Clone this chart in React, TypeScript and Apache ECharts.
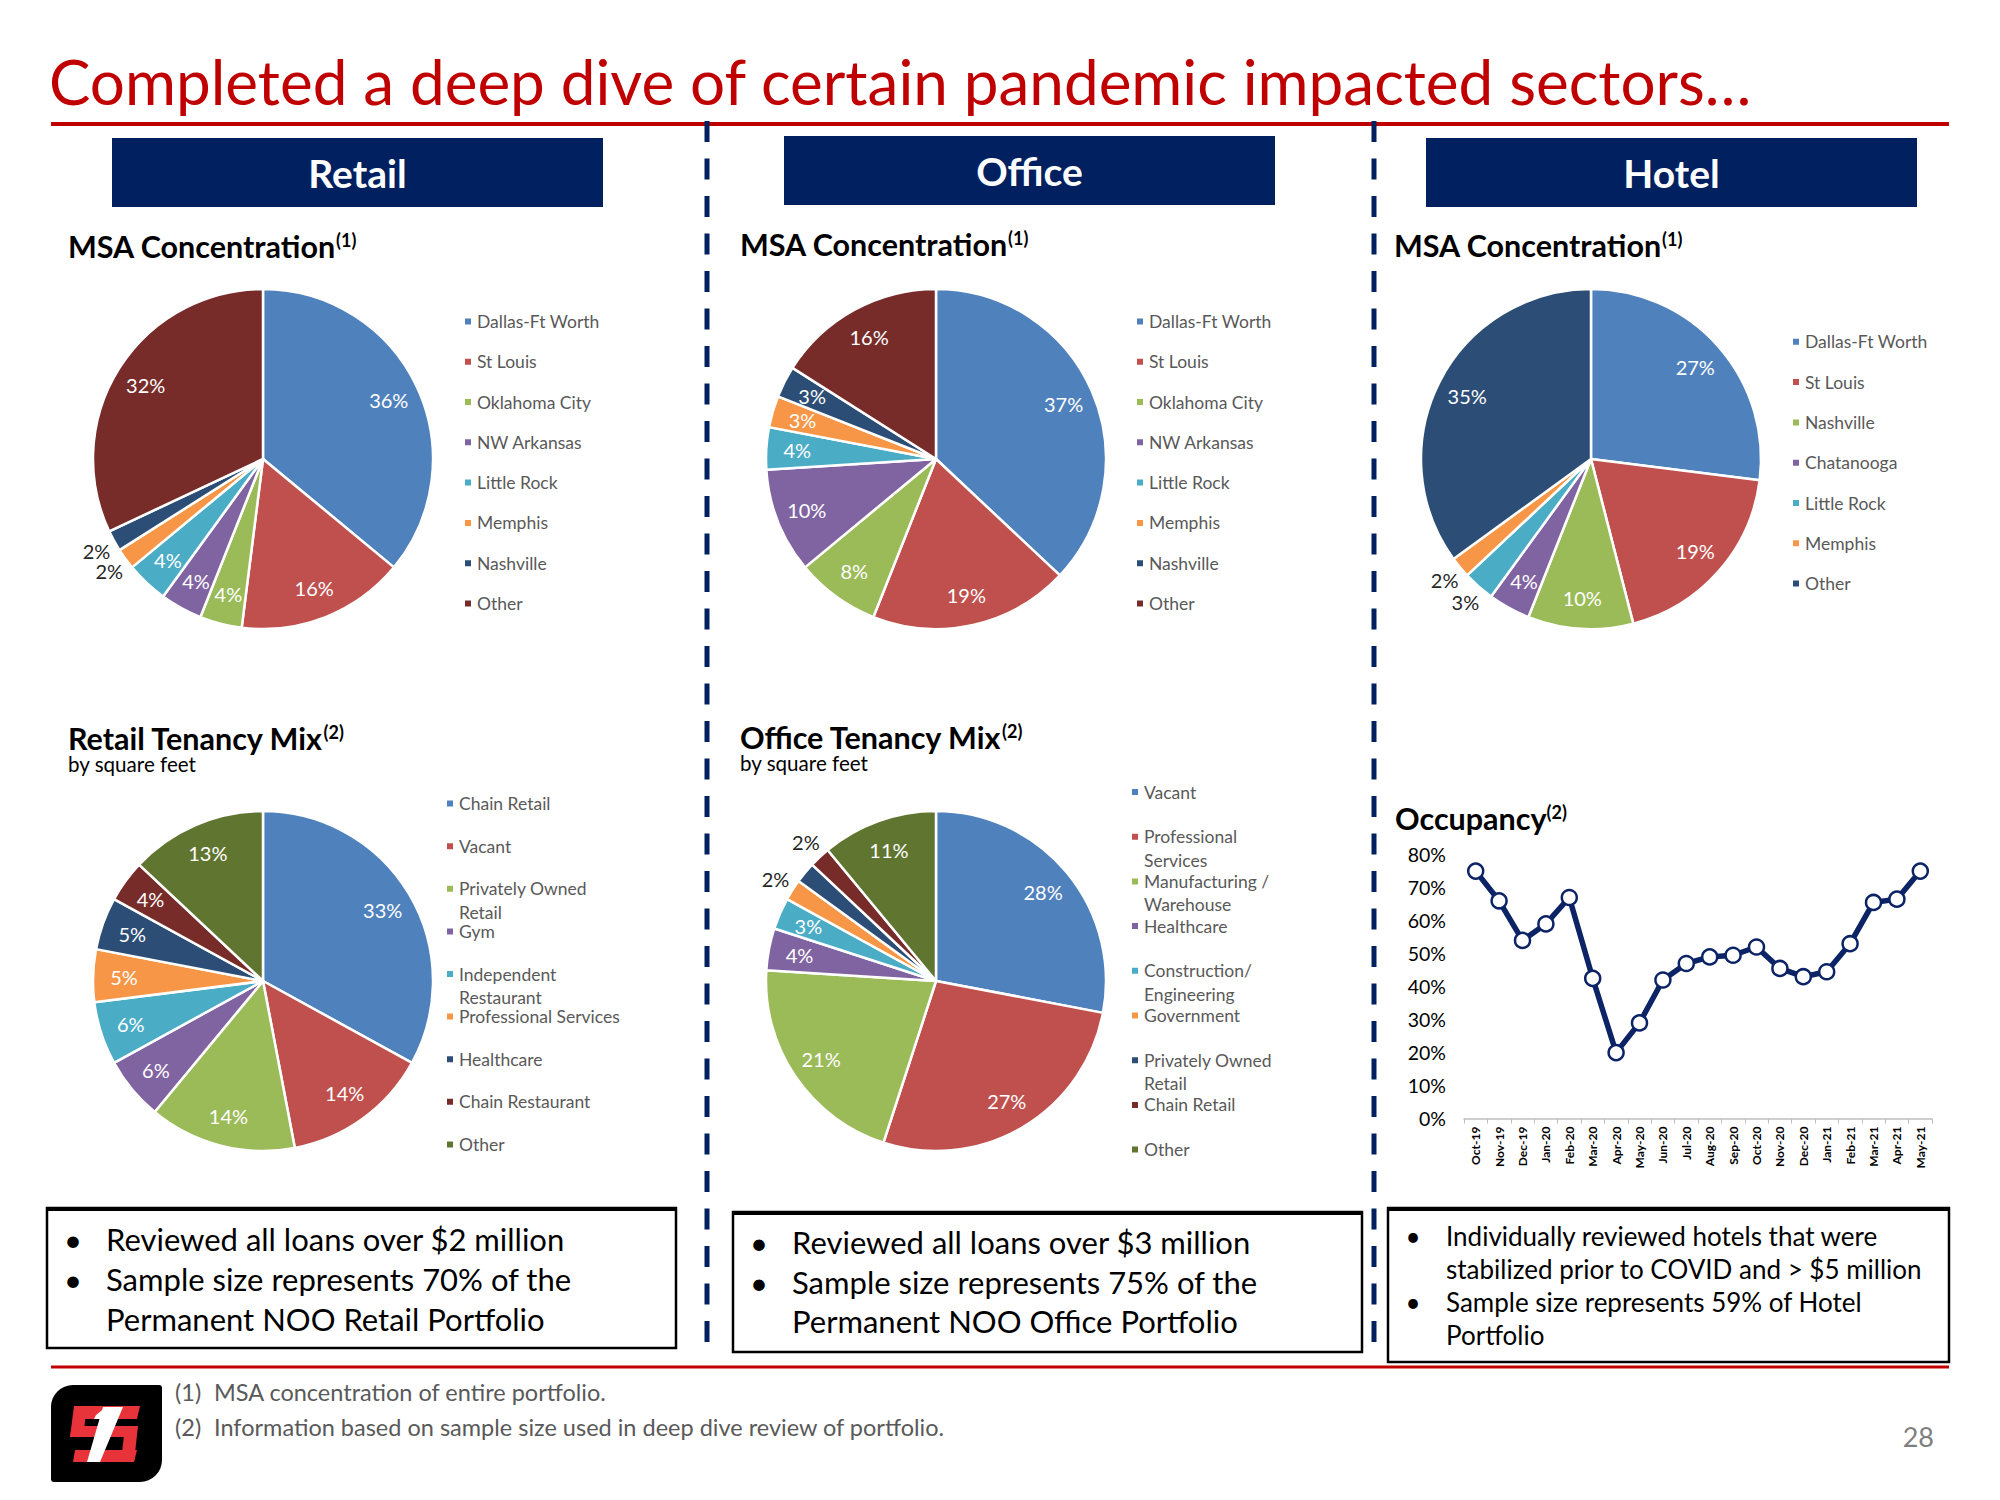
import React, { useEffect, useRef } from 'react';
import * as echarts from 'echarts';

// ---------- DATA ----------
const retailMsaNames = ['Dallas-Ft Worth', 'St Louis', 'Oklahoma City', 'NW Arkansas', 'Little Rock', 'Memphis', 'Nashville', 'Other'];
const retailMsaValues = [36, 16, 4, 4, 4, 2, 2, 32];

const officeMsaNames = ['Dallas-Ft Worth', 'St Louis', 'Oklahoma City', 'NW Arkansas', 'Little Rock', 'Memphis', 'Nashville', 'Other'];
const officeMsaValues = [37, 19, 8, 10, 4, 3, 3, 16];

const hotelMsaNames = ['Dallas-Ft Worth', 'St Louis', 'Nashville', 'Chatanooga', 'Little Rock', 'Memphis', 'Other'];
const hotelMsaValues = [27, 19, 10, 4, 3, 2, 35];

const retailTenancyNames = ['Chain Retail', 'Vacant', 'Privately Owned\nRetail', 'Gym', 'Independent\nRestaurant', 'Professional Services', 'Healthcare', 'Chain Restaurant', 'Other'];
const retailTenancyValues = [33, 14, 14, 6, 6, 5, 5, 4, 13];

const officeTenancyNames = ['Vacant', 'Professional\nServices', 'Manufacturing /\nWarehouse', 'Healthcare', 'Construction/\nEngineering', 'Government', 'Privately Owned\nRetail', 'Chain Retail', 'Other'];
const officeTenancyValues = [28, 27, 21, 4, 3, 2, 2, 2, 11];

const occupancyMonths = ['Oct-19', 'Nov-19', 'Dec-19', 'Jan-20', 'Feb-20', 'Mar-20', 'Apr-20', 'May-20', 'Jun-20', 'Jul-20', 'Aug-20', 'Sep-20', 'Oct-20', 'Nov-20', 'Dec-20', 'Jan-21', 'Feb-21', 'Mar-21', 'Apr-21', 'May-21'];
const occupancyValues = [75, 66, 54, 59, 67, 42.5, 20, 29, 42, 47, 49, 49.5, 52, 45.5, 43, 44.5, 53, 65.5, 66.5, 75];

const retailBullets = ['Reviewed all loans over $2 million', 'Sample size represents 70% of the', 'Permanent NOO Retail Portfolio'];
const officeBullets = ['Reviewed all loans over $3 million', 'Sample size represents 75% of the', 'Permanent NOO Office Portfolio'];
const hotelBullets = ['Individually reviewed hotels that were', 'stabilized prior to COVID and > $5 million', 'Sample size represents 59% of Hotel', 'Portfolio'];

const footnotes = ['MSA concentration of entire portfolio.', 'Information based on sample size used in deep dive review of portfolio.'];

// ---------- STYLE ----------
const FONT = 'Lato, "Open Sans", sans-serif';
const NAVY = '#002060';
const RED = '#C00000';
const LINE_NAVY = '#0C2466';
const palette = ['#4F81BD', '#C0504D', '#9BBB59', '#8064A2', '#4BACC6', '#F79646', '#2C4D75', '#772C2A', '#5F7530'];

const pies = [
  { names: retailMsaNames, values: retailMsaValues, cx: 263, cy: 459, r: 170, lx: 467, ly: 321.4, lgap: 40.3, outside: [5, 6] },
  { names: officeMsaNames, values: officeMsaValues, cx: 936, cy: 459, r: 170, lx: 1139, ly: 321.4, lgap: 40.3, outside: [] as number[] },
  { names: hotelMsaNames, values: hotelMsaValues, cx: 1591, cy: 459, r: 170, lx: 1795, ly: 341.8, lgap: 40.3, outside: [4, 5] },
  { names: retailTenancyNames, values: retailTenancyValues, cx: 263, cy: 981, r: 170, lx: 449, ly: 803.6, lgap: 42.6, outside: [] as number[] },
  { names: officeTenancyNames, values: officeTenancyValues, cx: 936, cy: 981, r: 170, lx: 1134, ly: 792, lgap: 44.7, outside: [5, 6, 7] },
];

const LH = 23.5;

function buildOption() {
  const series: any[] = [];
  pies.forEach((p) => {
    series.push({
      type: 'pie', center: [p.cx, p.cy], radius: [0, p.r], startAngle: 90, clockwise: true, silent: true,
      label: { show: false }, labelLine: { show: false },
      itemStyle: { borderColor: '#ffffff', borderWidth: 2.5 },
      data: p.names.map((n, i) => ({ name: n, value: p.values[i], itemStyle: { color: palette[i] } })),
    });
    series.push({
      type: 'pie', center: [p.cx, p.cy], radius: [p.r * 0.6, p.r], startAngle: 90, clockwise: true, silent: true,
      labelLine: { show: false },
      label: { show: true, position: 'inside', formatter: '{c}%', color: '#ffffff', fontFamily: FONT, fontSize: 20 },
      itemStyle: { color: 'rgba(0,0,0,0)', borderWidth: 0 },
      data: p.names.map((n, i) => ({ name: n, value: p.values[i], label: { show: p.outside.indexOf(i) < 0 } })),
    });
    if (p.outside.length) {
      series.push({
        type: 'pie', center: [p.cx, p.cy], radius: [p.r, p.r * 1.2], startAngle: 90, clockwise: true, silent: true,
        labelLine: { show: false },
        label: { show: true, position: 'inside', formatter: '{c}%', color: '#262626', fontFamily: FONT, fontSize: 20 },
        itemStyle: { color: 'rgba(0,0,0,0)', borderWidth: 0 },
        data: p.names.map((n, i) => ({ name: n, value: p.values[i], label: { show: p.outside.indexOf(i) >= 0 } })),
      });
    }
  });

  series.push({
    type: 'line', xAxisIndex: 0, yAxisIndex: 0, data: occupancyValues,
    symbol: 'circle', symbolSize: 15, silent: true,
    lineStyle: { color: LINE_NAVY, width: 5.5 },
    itemStyle: { color: '#ffffff', borderColor: LINE_NAVY, borderWidth: 2.5 },
  });

  const legends: any[] = [];
  pies.forEach((p) => {
    p.names.forEach((n, i) => {
      const lines = n.split('\n').length;
      legends.push({
        data: [{ name: n, itemStyle: { color: palette[i] } }],
        left: p.lx - 4,
        top: p.ly + i * p.lgap - (lines === 2 ? 1.5 : 0.5) * LH,
        orient: 'vertical', padding: 0, icon: 'rect', itemWidth: 8, itemHeight: 8, selectedMode: false,
        formatter: (name: string) => (lines === 2 ? '\n' + name : name),
        textStyle: { fontFamily: FONT, fontSize: 17.5, color: '#595959', lineHeight: LH },
      });
    });
  });

  const text = (t: string, x: number, y: number, size: number, opts: any = {}) => ({
    type: 'text', x, y, silent: true,
    style: { text: t, fontFamily: FONT, fontSize: size, fontWeight: opts.bold ? 'bold' : 'normal', fill: opts.color || '#000000', align: opts.align || 'left', verticalAlign: 'middle', lineHeight: opts.lh || size * 1.2 },
  });
  const supTitle = (main: string, sup: string, x: number, y: number) => ({
    type: 'text', x, y, silent: true,
    style: {
      text: `{m|${main}}{s|${sup}}`, align: 'left', verticalAlign: 'middle',
      rich: {
        m: { fontFamily: FONT, fontWeight: 'bold', fontSize: 30.5, fill: '#000000', lineHeight: 30 },
        s: { fontFamily: FONT, fontWeight: 'bold', fontSize: 18, fill: '#000000', lineHeight: 17, verticalAlign: 'top' },
      },
    },
  });

  const graphics: any[] = [];
  // Title and red rule
  graphics.push(text('Completed a deep dive of certain pandemic impacted sectors…', 49, 81, 62, { color: RED }));
  graphics.push({ type: 'line', silent: true, shape: { x1: 51, y1: 124, x2: 1949, y2: 124 }, style: { stroke: RED, lineWidth: 4 } });
  // Dashed separators
  [707, 1374].forEach((x) => {
    graphics.push({ type: 'line', silent: true, shape: { x1: x, y1: 121, x2: x, y2: 1342 }, style: { stroke: NAVY, lineWidth: 5, lineDash: [21, 16.5] } });
  });
  // Header boxes
  [
    { t: 'Retail', x: 112, y: 138 },
    { t: 'Office', x: 784, y: 136 },
    { t: 'Hotel', x: 1426, y: 138 },
  ].forEach((h) => {
    graphics.push({ type: 'rect', silent: true, shape: { x: h.x, y: h.y, width: 491, height: 69 }, style: { fill: NAVY } });
    graphics.push(text(h.t, h.x + 245.5, h.y + 35, 39, { bold: true, color: '#ffffff', align: 'center' }));
  });
  // Section titles
  graphics.push(supTitle('MSA Concentration', '(1)', 68, 246));
  graphics.push(supTitle('MSA Concentration', '(1)', 740, 244));
  graphics.push(supTitle('MSA Concentration', '(1)', 1394, 245));
  graphics.push(supTitle('Retail Tenancy Mix', '(2)', 68, 738));
  graphics.push(text('by square feet', 68, 764, 20.6, { lh: 20 }));
  graphics.push(supTitle('Office Tenancy Mix', '(2)', 740, 737));
  graphics.push(text('by square feet', 740, 763, 20.6, { lh: 20 }));
  graphics.push(supTitle('Occupancy', '(2)', 1395, 818));

  // Bottom boxes
  const boxes = [
    { x: 47, y: 1208, w: 629, h: 140, lines: retailBullets, bullets: [0, 1], bx: 73, tx: 106, y0: 1238.5, dy: 40.3, size: 31 },
    { x: 733, y: 1212, w: 629, h: 140, lines: officeBullets, bullets: [0, 1], bx: 759, tx: 792, y0: 1242, dy: 39.5, size: 31 },
    { x: 1388, y: 1208, w: 561, h: 154, lines: hotelBullets, bullets: [0, 2], bx: 1413, tx: 1446, y0: 1236, dy: 33, size: 26 },
  ];
  boxes.forEach((b) => {
    graphics.push({ type: 'rect', silent: true, shape: { x: b.x, y: b.y, width: b.w, height: b.h }, style: { fill: '#ffffff', stroke: '#000000', lineWidth: 2.5 } });
    graphics.push({ type: 'line', silent: true, shape: { x1: b.x, y1: b.y + 1, x2: b.x + b.w, y2: b.y + 1 }, style: { stroke: '#000000', lineWidth: 4 } });
    b.lines.forEach((l, i) => {
      if (b.bullets.indexOf(i) >= 0) graphics.push(text('•', b.bx, b.y0 + i * b.dy, b.size, { align: 'center' }));
      graphics.push(text(l, b.tx, b.y0 + i * b.dy, b.size));
    });
  });

  // Bottom rule, footnotes, page number
  graphics.push({ type: 'line', silent: true, shape: { x1: 51, y1: 1367, x2: 1949, y2: 1367 }, style: { stroke: RED, lineWidth: 3 } });
  footnotes.forEach((f, i) => {
    graphics.push(text(`(${i + 1})`, 175, 1392 + i * 35, 23.5, { color: '#595959' }));
    graphics.push(text(f, 214, 1392 + i * 35, 23.5, { color: '#595959' }));
  });
  graphics.push(text('28', 1934, 1436, 27, { color: '#7F7F7F', align: 'right' }));

  // Logo
  graphics.push({ type: 'rect', silent: true, shape: { x: 51, y: 1385, width: 111, height: 97, r: [22, 3, 22, 3] }, style: { fill: '#000000' } });
  const redParts = [
    [[77, 1406], [140, 1406], [137, 1419], [74, 1419]],
    [[74, 1406], [87, 1406], [83, 1437], [70, 1437]],
    [[72, 1426], [135, 1426], [133, 1437], [70, 1437]],
    [[125, 1426], [138, 1426], [134, 1462], [121, 1462]],
    [[75, 1450], [137, 1450], [134, 1462], [73, 1462]],
  ];
  redParts.forEach((pts) => graphics.push({ type: 'polygon', silent: true, shape: { points: pts }, style: { fill: '#E8333B' } }));
  graphics.push({ type: 'polygon', silent: true, shape: { points: [[103, 1407], [123, 1407], [100, 1462], [87, 1462]] }, style: { fill: '#ffffff' } });
  graphics.push({ type: 'polygon', silent: true, shape: { points: [[96, 1415], [106, 1407], [103, 1419], [94, 1419]] }, style: { fill: '#ffffff' } });

  return {
    animation: false,
    backgroundColor: '#ffffff',
    legend: legends,
    grid: { left: 1464, top: 854.6, width: 468, height: 264, containLabel: false },
    xAxis: {
      type: 'category', data: occupancyMonths, boundaryGap: true,
      axisLine: { lineStyle: { color: '#BFBFBF', width: 1.5 } },
      axisTick: { show: true, interval: 0, length: 5, lineStyle: { color: '#BFBFBF' } },
      axisLabel: { interval: 0, rotate: 90, fontFamily: FONT, fontSize: 12, fontWeight: 'bold', color: '#000000', margin: 8 },
    },
    yAxis: {
      type: 'value', min: 0, max: 80, interval: 10,
      axisLine: { show: false }, axisTick: { show: false }, splitLine: { show: false },
      axisLabel: { formatter: '{value}%', fontFamily: FONT, fontSize: 19.5, color: '#000000', margin: 18 },
    },
    series,
    graphic: { elements: graphics },
  };
}

export default function App() {
  const ref = useRef<HTMLDivElement>(null);
  useEffect(() => {
    document.body.style.margin = '0';
    const chart = echarts.init(ref.current!, null, { renderer: 'svg' });
    chart.setOption(buildOption() as any);
    return () => chart.dispose();
  }, []);
  return <div ref={ref} style={{ width: 2000, height: 1500 }} />;
}
